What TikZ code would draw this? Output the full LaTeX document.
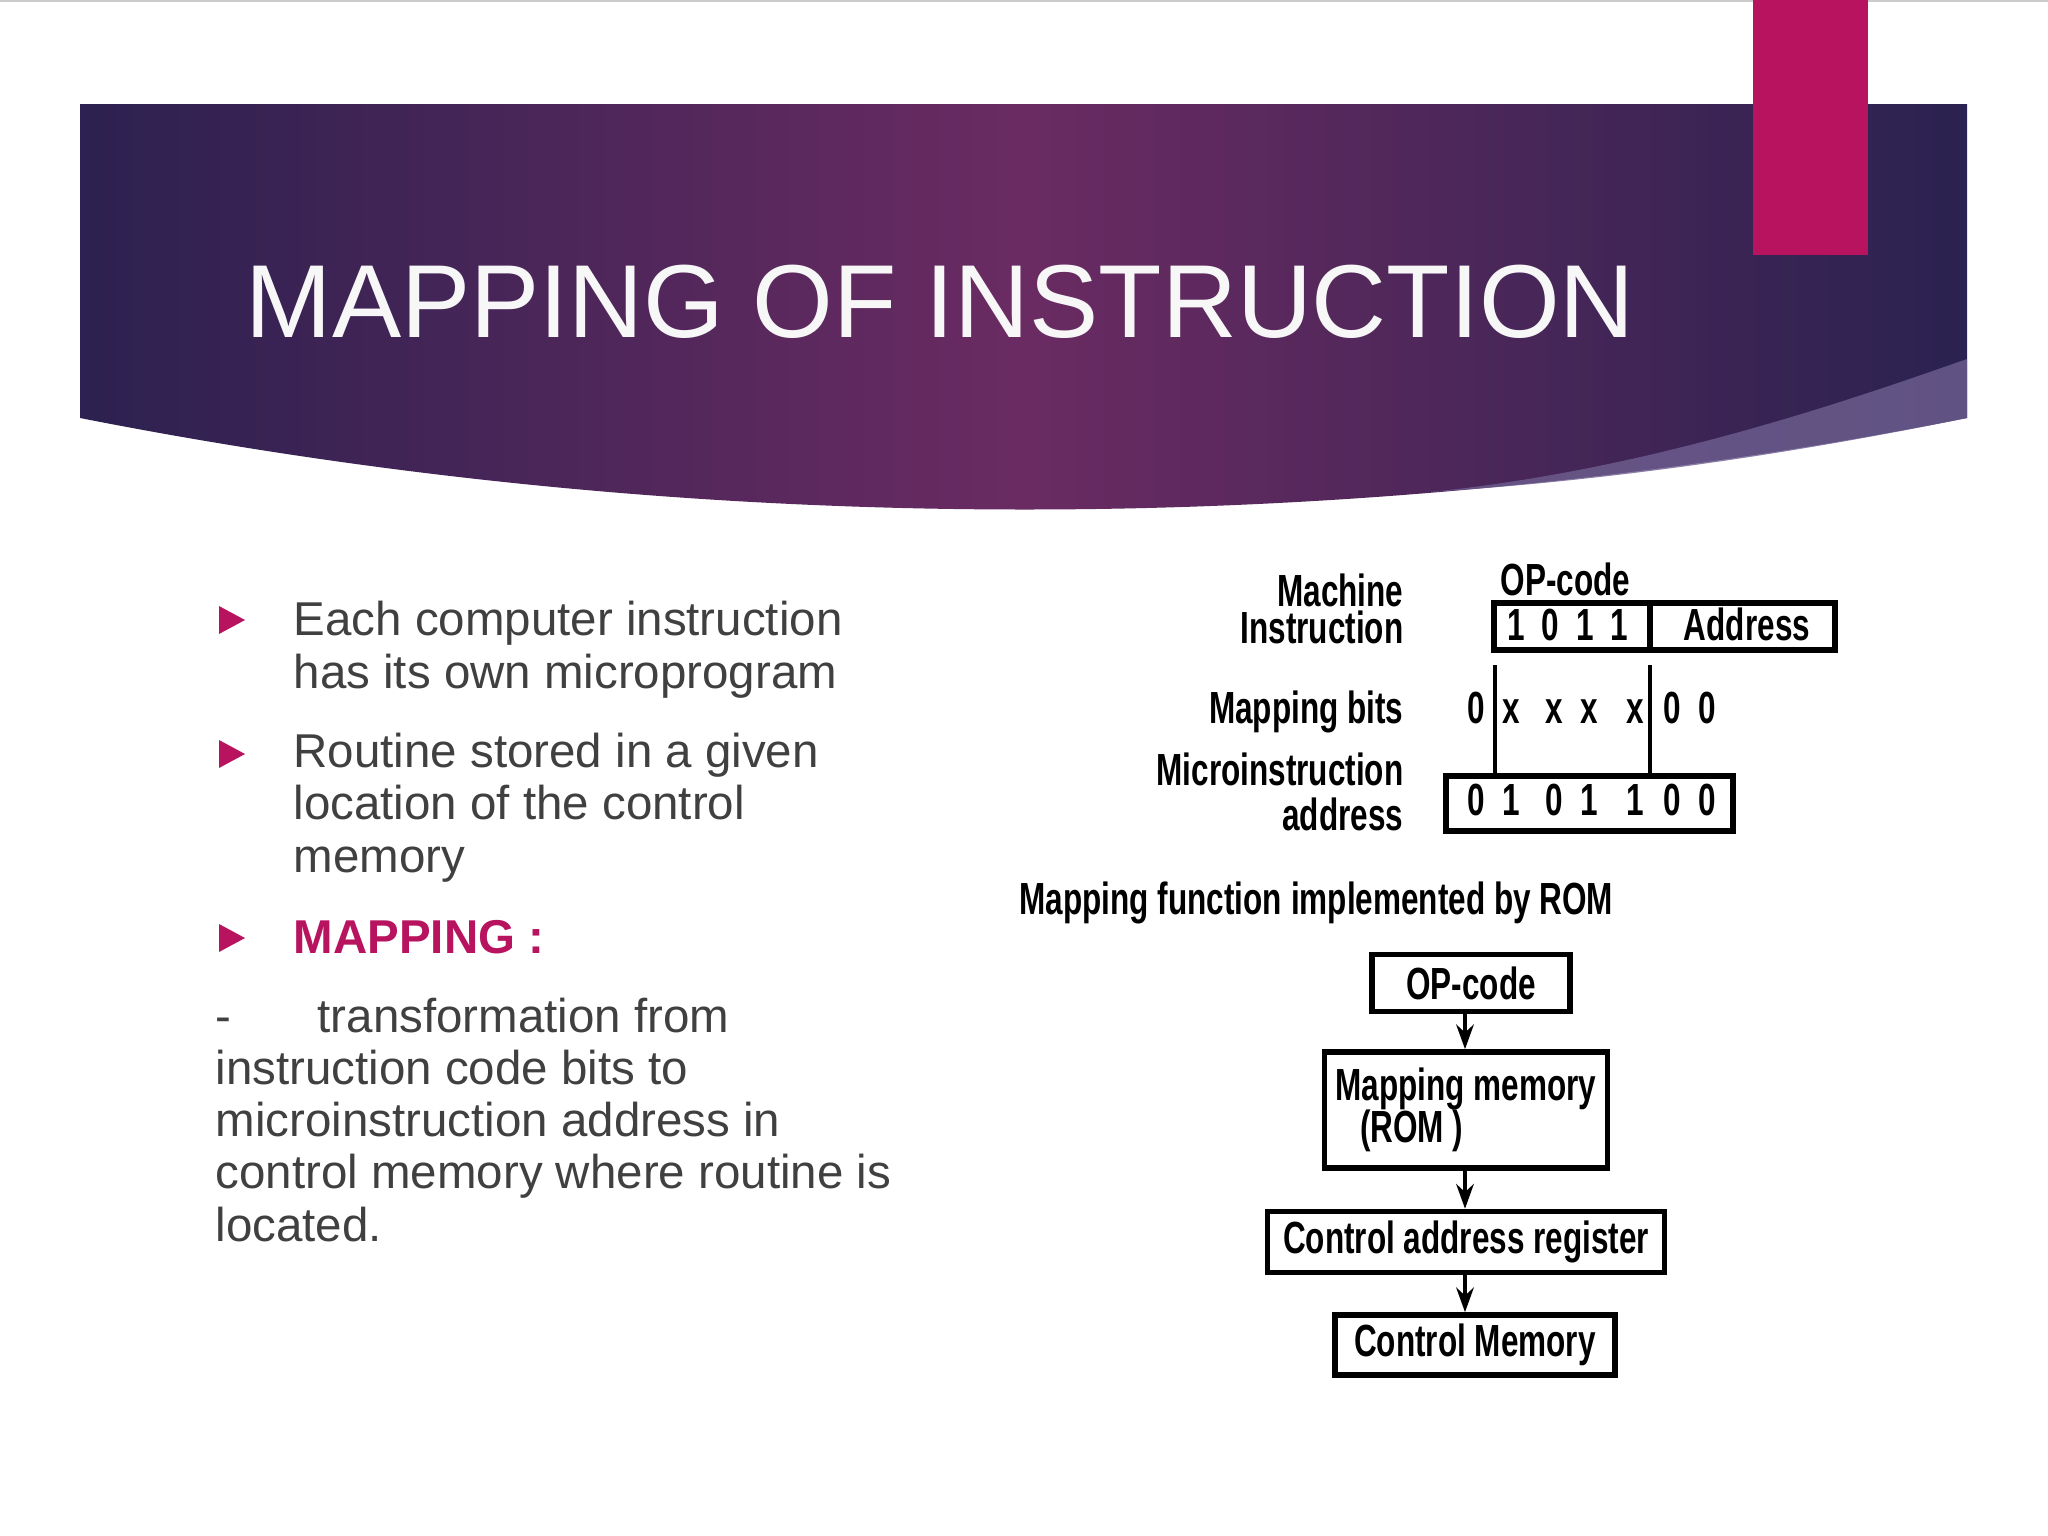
\documentclass[tikz,border=0pt]{standalone}
\usepackage{fontspec}
\setmainfont{Liberation Sans}
\newfontfamily\cnd{Liberation Sans}[FakeStretch=0.7]
\usetikzlibrary{arrows.meta}
\definecolor{pbar}{HTML}{B8135F}
\definecolor{tgrey}{HTML}{404040}
\definecolor{hedge}{HTML}{2C2150}
\definecolor{hmid}{HTML}{6A2B62}
\definecolor{hright}{HTML}{2A2250}
\definecolor{swoosh}{HTML}{6E5F90}
\begin{document}
\begin{tikzpicture}[x=0.01cm,y=-0.01cm,
  body/.style={anchor=base west,inner sep=0,text=tgrey,font=\fontsize{13.5}{14.8}\selectfont},
  bul/.style={fill=pbar},
  dg/.style={inner sep=0,font=\cnd\bfseries\fontsize{12.8}{14}\selectfont},
  box/.style={draw,line width=1.6pt,inner sep=0},
  arr/.style={-{Stealth[length=7pt,width=5pt]},line width=1pt}]
\useasboundingbox (0,0) rectangle (2048,1536);
\fill[white] (0,0) rectangle (2048,1536);
\draw[gray!40] (0,1) -- (2048,1);
% header
\shade[left color=hedge,right color=hright,middle color=hmid]
 (80,104) -- (1967,104) -- (1967,418) .. controls (1350,540) and (700,540) .. (80,418) -- cycle;
\fill[swoosh,opacity=0.8] (1430,492) .. controls (1650,470) and (1850,400) .. (1967,359) -- (1967,418) .. controls (1800,452) and (1620,480) .. (1430,492) -- cycle;
\fill[pbar] (1753,0) rectangle (1868,255);
\node[anchor=base west,inner sep=0,text=white!94!gray,font=\fontsize{29.5}{34}\selectfont] (title) at (245,337) {MAPPING OF INSTRUCTION};
% bullets
\fill[bul] (219,606) -- (245,620) -- (219,634) -- cycle;
\fill[bul] (219,740) -- (245,754) -- (219,768) -- cycle;
\fill[bul] (219,924) -- (245,938) -- (219,952) -- cycle;
\node[body] (l1) at (293,635) {Each computer instruction};
\node[body] (l2) at (293,688) {has its own microprogram};
\node[body] (l3) at (293,767) {Routine stored in a given};
\node[body] (l4) at (293,819) {location of the control};
\node[body] (l5) at (293,872) {memory};
\node[body,text=pbar,font=\bfseries\fontsize{13.5}{14.8}\selectfont] (l6) at (293,953) {MAPPING :};
\node[body] (d0) at (215,1032) {-};
\node[body] (d1) at (317,1032) {transformation from};
\node[body] (d2) at (215,1084) {instruction code bits to};
\node[body] (d3) at (215,1136) {microinstruction address in};
\node[body] (d4) at (215,1188) {control memory where routine is};
\node[body] (d5) at (215,1241) {located.};
% upper diagram
\node[dg,anchor=base east] (mach) at (1404,606) {Machine};
\node[dg,anchor=base east] (inst) at (1404,643) {Instruction};
\node[dg,anchor=base west] (opl) at (1500,595) {OP-code};
\draw[line width=1.6pt] (1494,603) rectangle (1835,650);
\draw[line width=1.6pt] (1650,603) -- (1650,650);
\node[dg,anchor=base] (ib1) at (1516,640) {1};
\node[dg,anchor=base] (ib2) at (1550,640) {0};
\node[dg,anchor=base] (ib3) at (1585,640) {1};
\node[dg,anchor=base] (ib4) at (1619,640) {1};
\node[dg,anchor=base] (addr) at (1747,640) {Address};
\node[dg,anchor=base east] (mb) at (1404,723) {Mapping bits};
\foreach \x/\t [count=\i] in {1476/0,1511/x,1554/x,1589/x,1635/x,1672/0,1707/0}
  \node[dg,anchor=base] (m\i) at (\x,723) {\t};
\node[dg,anchor=base east] (mi1) at (1404,785) {Microinstruction};
\node[dg,anchor=base east] (mi2) at (1404,830) {address};
\draw[line width=1.6pt] (1446,776) rectangle (1733,831);
\foreach \x/\t [count=\i] in {1476/0,1511/1,1554/0,1589/1,1635/1,1672/0,1707/0}
  \node[dg,anchor=base] (a\i) at (\x,815) {\t};
\coordinate (v1a) at (1495,665);
\coordinate (v1b) at (1495,776);
\coordinate (v2a) at (1650,665);
\coordinate (v2b) at (1650,776);
\draw[line width=1.3pt] (v1a) -- (v1b);
\draw[line width=1.3pt] (v2a) -- (v2b);
\node[dg,anchor=base west] (mf) at (1019,914) {Mapping function implemented by ROM};
% flow chart
\node[box,dg,minimum width=1.98cm,minimum height=0.57cm] (op) at (1471,983) {OP-code};
\node[box,dg,minimum width=2.83cm,minimum height=1.16cm,align=left] (mm) at (1466,1110) {Mapping memory\\[-2pt]\hspace*{7pt}(ROM )};
\node[box,dg,minimum width=3.97cm,minimum height=0.61cm] (car) at (1466,1242) {Control address register};
\node[box,dg,minimum width=2.80cm,minimum height=0.60cm] (cm) at (1475,1345) {Control Memory};
\draw[arr] (op.south -| 1465,0) -- (mm.north -| 1465,0);
\draw[arr] (mm.south -| 1465,0) -- (car.north -| 1465,0);
\draw[arr] (car.south -| 1465,0) -- (cm.north -| 1465,0);
\end{tikzpicture}
\end{document}
